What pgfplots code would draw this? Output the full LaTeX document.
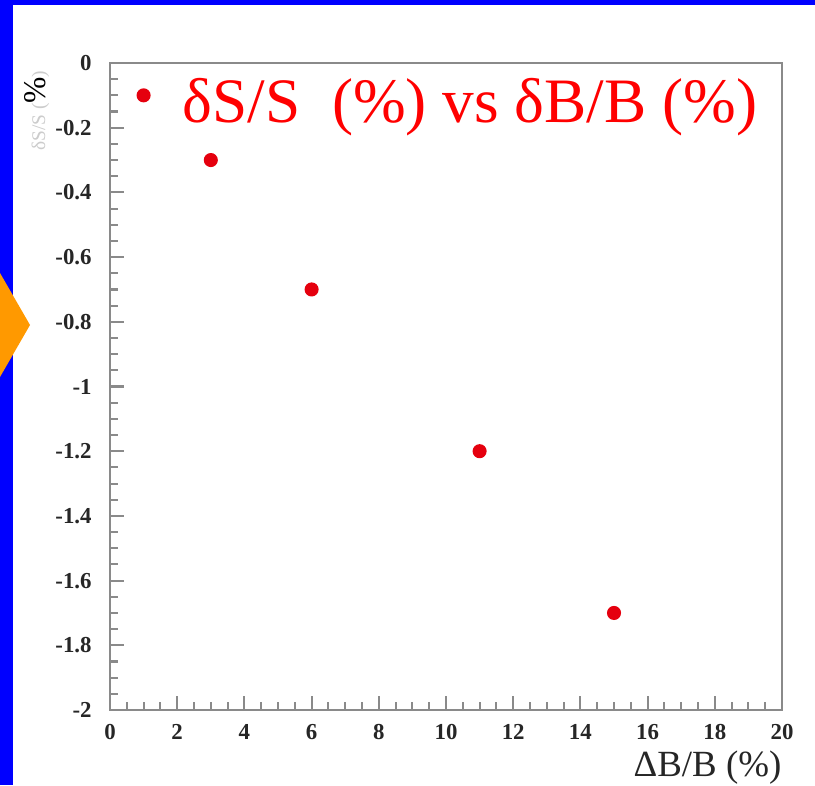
\documentclass[border=0pt]{standalone}
\usepackage{pgfplots}
\pgfplotsset{compat=1.18}
\usepackage{fontspec}
\setmainfont{Liberation Serif}
\definecolor{slideblue}{HTML}{0000FF}
\definecolor{slideorange}{HTML}{FF9900}
\definecolor{ptred}{HTML}{E5000E}
\definecolor{titlered}{HTML}{FF0000}
\definecolor{framegray}{HTML}{8A8A8A}
\begin{document}
\begin{tikzpicture}[x=1cm,y=1cm]
\useasboundingbox (0,0) rectangle (8.15,7.85);
% slide background
\fill[white] (0,0) rectangle (8.15,7.85);
\fill[slideblue] (0,0) rectangle (0.13,7.85);
\fill[slideblue] (0,7.80) rectangle (8.15,7.85);
\fill[slideorange] (0,5.12) -- (0.30,4.60) -- (0,4.08) -- cycle;
\begin{axis}[
  at={(1.10cm,0.75cm)}, anchor=south west,
  scale only axis, width=6.72cm, height=6.47cm,
  xmin=0, xmax=20, ymin=-2, ymax=0,
  xtick={0,2,4,6,8,10,12,14,16,18,20},
  ytick={0,-0.2,-0.4,-0.6,-0.8,-1,-1.2,-1.4,-1.6,-1.8,-2},
  minor x tick num=3, minor y tick num=3,
  tick align=inside, tick pos=left,
  major tick length=0.14cm, minor tick length=0.08cm,
  axis line style={framegray, line width=0.6pt},
  every tick/.style={framegray, line width=0.6pt},
  tick label style={font=\fontsize{6.5}{7}\selectfont\bfseries, black!85},
  /pgf/number format/assume math mode=true,
  /pgf/number format/fixed,
  yticklabel style={xshift=-0.06cm},
  xticklabel style={yshift=-0.02cm},
  clip=false,
]
\addplot[only marks, mark=*, mark size=1.8pt, color=ptred,
  mark options={draw=ptred, fill=ptred}]
  coordinates {(1,-0.1) (3,-0.3) (6,-0.7) (11,-1.2) (15,-1.7)};
\end{axis}
% title and axis labels
\node[titlered, anchor=base west, inner sep=0pt, font=\fontsize{18}{20}\selectfont]
  at (1.82,6.62) {δS/S\ \ (\%) vs δB/B (\%)};
\node[anchor=base east, inner sep=0pt, font=\fontsize{10.5}{12}\selectfont, black!85]
  at (7.82,0.09) {ΔB/B (\%)};
\node[rotate=90, anchor=base east, inner sep=0pt, font=\fontsize{9}{10}\selectfont]
  at (0.45,7.15) {{\color{gray!40}\fontsize{5.5}{6}\selectfont δS/S (}\%{\color{gray!40}\fontsize{5.5}{6}\selectfont )}};
\end{tikzpicture}
\end{document}
